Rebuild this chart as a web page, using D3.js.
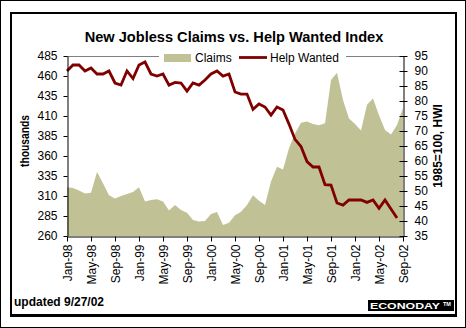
<!DOCTYPE html>
<html>
<head>
<meta charset="utf-8">
<script src="https://cdn.jsdelivr.net/npm/d3@7"></script>
<style>
  html, body { margin: 0; padding: 0; background: #fff; }
  svg { display: block; }
  text { font-family: "Liberation Sans", Arial, sans-serif; fill: #000; }
</style>
</head>
<body>
<div id="chart"></div>
<script>
// Monthly categories, Jan-98 through Sep-02
const months = [
  "Jan-98","Feb-98","Mar-98","Apr-98","May-98","Jun-98","Jul-98","Aug-98","Sep-98","Oct-98","Nov-98","Dec-98",
  "Jan-99","Feb-99","Mar-99","Apr-99","May-99","Jun-99","Jul-99","Aug-99","Sep-99","Oct-99","Nov-99","Dec-99",
  "Jan-00","Feb-00","Mar-00","Apr-00","May-00","Jun-00","Jul-00","Aug-00","Sep-00","Oct-00","Nov-00","Dec-00",
  "Jan-01","Feb-01","Mar-01","Apr-01","May-01","Jun-01","Jul-01","Aug-01","Sep-01","Oct-01","Nov-01","Dec-01",
  "Jan-02","Feb-02","Mar-02","Apr-02","May-02","Jun-02","Jul-02","Aug-02","Sep-02"
];

// New jobless claims, thousands (left axis)
const claims = [
  321, 320, 317, 313, 314, 340, 326, 311, 307, 310, 312.5, 315,
  321, 303, 305, 306, 303, 292, 298.7, 292.5, 289, 280, 278, 278.6,
  287.5, 290, 273.7, 276.7, 286, 290.4, 298.7, 311, 304, 298.7, 328, 346.7,
  343, 369.6, 388, 401.7, 403, 400, 398.4, 401, 455, 464, 430, 407,
  400, 392, 424, 432, 411, 392.5, 387, 398.75, 420
];

// Help Wanted Index, 1985=100 (right axis), Jan-98 through Aug-02
const helpWanted = [
  90, 92, 92, 90, 91, 89, 89, 90, 86, 85.3, 90, 87.5,
  92, 93, 89, 88.3, 89, 85.3, 86.2, 86, 83.3, 86, 85.3, 87,
  89, 90, 88.3, 89, 83, 82.3, 82.3, 77.2, 79, 78, 75.3, 78,
  77, 72.3, 67.2, 64.8, 59.8, 58, 58, 52.1, 52, 46, 45.3, 47,
  47, 47, 46.2, 47, 44.2, 47, 44, 41
];

const leftTicks = [260, 285, 310, 335, 360, 385, 410, 435, 460, 485];
const rightTicks = [35, 40, 45, 50, 55, 60, 65, 70, 75, 80, 85, 90, 95];
const xTickLabels = ["Jan-98","May-98","Sep-98","Jan-99","May-99","Sep-99","Jan-00","May-00",
                     "Sep-00","Jan-01","May-01","Sep-01","Jan-02","May-02","Sep-02"];

const W = 466, H = 328;
const plot = { left: 67, right: 403, top: 56, bottom: 236 };

const svg = d3.select("#chart").append("svg")
  .attr("width", W).attr("height", H);

// Outer border and framed panel
svg.append("rect").attr("x", 0.5).attr("y", 0.5).attr("width", W - 1).attr("height", H - 1)
  .attr("fill", "#fff").attr("stroke", "#000").attr("stroke-width", 1);
svg.append("rect").attr("x", 10).attr("y", 12).attr("width", 447).attr("height", 305).attr("fill", "#000");
svg.append("rect").attr("x", 12).attr("y", 14).attr("width", 443).attr("height", 300).attr("fill", "#fff");

const x = d3.scalePoint().domain(months).range([plot.left, plot.right]);
const yL = d3.scaleLinear().domain([260, 485]).range([plot.bottom, plot.top]);
const yR = d3.scaleLinear().domain([35, 95]).range([plot.bottom, plot.top]);

// Claims area
const area = d3.area()
  .x((d, i) => x(months[i]))
  .y0(plot.bottom)
  .y1(d => yL(d));
svg.append("path").datum(claims)
  .attr("d", area)
  .attr("fill", "#c1c196");

// Help Wanted line
const line = d3.line()
  .x((d, i) => x(months[i]))
  .y(d => yR(d));
svg.append("path").datum(helpWanted)
  .attr("d", line)
  .attr("fill", "none")
  .attr("stroke", "#800000")
  .attr("stroke-width", 2.8)
  .attr("stroke-linejoin", "miter");

// Top border of plot area
svg.append("line")
  .attr("x1", plot.left).attr("x2", plot.right)
  .attr("y1", plot.top + 0.5).attr("y2", plot.top + 0.5)
  .attr("stroke", "#808080").attr("stroke-width", 1);

// Left axis
const gL = svg.append("g").attr("transform", `translate(${plot.left + 0.5},0)`)
  .call(d3.axisLeft(yL).tickValues(leftTicks).tickSize(4).tickSizeOuter(0).tickPadding(6));
// Right axis (ticks cross the axis line)
const gR = svg.append("g").attr("transform", `translate(${plot.right + 0.5},0)`)
  .call(d3.axisRight(yR).tickValues(rightTicks).tickSize(4).tickSizeOuter(0).tickPadding(7));
gR.selectAll(".tick line").attr("x1", -4);
// Bottom axis
const tickMonths = months.filter(m => xTickLabels.includes(m));
const gB = svg.append("g").attr("transform", `translate(0,${plot.bottom + 0.5})`)
  .call(d3.axisBottom(x).tickValues(tickMonths).tickSize(5).tickSizeOuter(0).tickPadding(0));
gB.selectAll(".tick text")
  .attr("transform", "rotate(-90)")
  .attr("text-anchor", "end")
  .attr("x", -8).attr("y", 0).attr("dy", "0.38em");

[gL, gR, gB].forEach(g => {
  g.selectAll(".domain").attr("stroke", "#000");
  g.selectAll(".tick line").attr("stroke", "#000");
  g.selectAll("text").attr("font-size", 12).attr("font-family", '"Liberation Sans", Arial, sans-serif').attr("fill", "#000");
});

// Title
svg.append("text").attr("x", 234).attr("y", 42).attr("text-anchor", "middle")
  .attr("font-size", 14.6).attr("font-weight", "bold")
  .text("New Jobless Claims vs. Help Wanted Index");

// Axis titles
svg.append("text").attr("transform", "translate(29,141) rotate(-90)")
  .attr("text-anchor", "middle").attr("font-size", 12).attr("font-weight", "bold")
  .attr("textLength", 52).attr("lengthAdjust", "spacingAndGlyphs")
  .text("thousands");
svg.append("text").attr("transform", "translate(442,146) rotate(-90)")
  .attr("text-anchor", "middle").attr("font-size", 12).attr("font-weight", "bold")
  .text("1985=100, HWI");

// Legend
const lg = svg.append("g");
lg.append("rect").attr("x", 159).attr("y", 50).attr("width", 187).attr("height", 13).attr("fill", "#fff");
lg.append("rect").attr("x", 164).attr("y", 54).attr("width", 27).attr("height", 8).attr("fill", "#c1c196");
lg.append("text").attr("x", 195).attr("y", 61.5).attr("font-size", 12).text("Claims");
lg.append("line").attr("x1", 239).attr("x2", 267).attr("y1", 57.5).attr("y2", 57.5)
  .attr("stroke", "#800000").attr("stroke-width", 2.8);
lg.append("text").attr("x", 270).attr("y", 61.5).attr("font-size", 12).text("Help Wanted");

// Footer
svg.append("text").attr("x", 14).attr("y", 306).attr("font-size", 12).attr("font-weight", "bold")
  .text("updated 9/27/02");
svg.append("rect").attr("x", 368).attr("y", 300).attr("width", 86).attr("height", 11).attr("fill", "#000");
svg.append("text").attr("x", 370).attr("y", 309).attr("font-size", 9.5).attr("font-weight", "bold")
  .attr("textLength", 70).attr("lengthAdjust", "spacingAndGlyphs")
  .style("fill", "#fff").text("ECONODAY");
svg.append("text").attr("x", 443).attr("y", 305.5).attr("font-size", 5.5).attr("font-weight", "bold")
  .style("fill", "#fff").text("TM");
</script>
</body>
</html>
